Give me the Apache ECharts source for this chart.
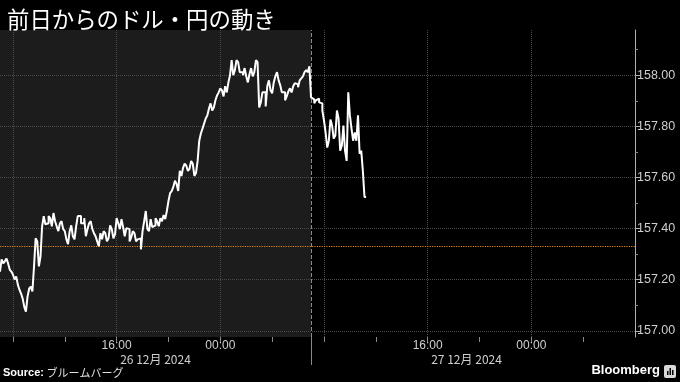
<!DOCTYPE html>
<html><head><meta charset="utf-8">
<script src="https://cdn.jsdelivr.net/npm/echarts@6/dist/echarts.min.js"></script>
<style>html,body{margin:0;padding:0;background:#000;}#c{width:680px;height:382px;}</style>
</head><body><div id="c"></div>
<script>
// ---- data ----
const titleText = '前日からのドル・円の動き';
const startHour = 7;          // hours counted from 26 Dec 2024 00:00 (first point 26 Dec 07:00)
const stepMinutes = 7.5;
const prices = [
157.264,157.232,157.280,157.264,157.272,157.283,157.264,157.240,157.232,157.220,
157.201,157.213,157.181,157.161,157.146,157.126,157.094,157.075,157.134,157.165,
157.173,157.154,157.252,157.362,157.350,157.252,157.291,157.409,157.449,157.417,
157.421,157.449,157.441,157.409,157.461,157.429,157.409,157.390,157.421,157.429,
157.398,157.390,157.358,157.339,157.390,157.413,157.370,157.358,157.409,157.449,
157.449,157.421,157.421,157.441,157.370,157.398,157.421,157.429,157.398,157.382,
157.370,157.350,157.331,157.382,157.358,157.390,157.382,157.350,157.362,157.413,
157.398,157.362,157.378,157.441,157.421,157.398,157.437,157.406,157.370,157.402,
157.398,157.350,157.366,157.390,157.382,157.350,157.358,157.362,157.319,157.390,
157.429,157.469,157.398,157.390,157.437,157.406,157.413,157.441,157.429,157.409,
157.441,157.429,157.453,157.437,157.469,157.508,157.539,157.547,157.563,157.587,
157.575,157.547,157.626,157.606,157.638,157.654,157.646,157.626,157.634,157.665,
157.654,157.606,157.618,157.665,157.744,157.772,157.791,157.811,157.831,157.843,
157.870,157.890,157.862,157.874,157.902,157.921,157.933,157.949,157.941,157.917,
157.957,157.933,157.972,158.000,158.059,158.000,158.020,158.059,158.051,158.012,
158.012,158.000,158.028,157.996,157.972,158.004,158.028,157.996,158.012,158.059,
158.051,157.874,157.894,157.933,157.933,157.878,157.957,157.980,157.941,157.929,
157.972,157.996,158.012,157.980,157.961,157.933,157.933,157.902,157.917,157.937,
157.949,157.933,157.957,157.969,157.965,157.953,157.980,157.988,157.996,158.012,
158.020,158.012,158.035,157.913,157.906,157.890,157.902,157.909,157.894,157.890,
157.862,157.823,157.776,157.717,157.744,157.827,157.803,157.752,157.764,157.862,
157.831,157.705,157.724,157.803,157.705,157.665,157.933,157.843,157.791,157.744,
157.776,157.744,157.843,157.693,157.705,157.626,157.524
];
const prevClose = 157.33;
const yMin = 156.976, yMax = 158.177;
const yLabelValues = [157.0, 157.2, 157.4, 157.6, 157.8, 158.0];
const yMinorValues = [157.1, 157.3, 157.5, 157.7, 157.9, 158.1];
const xMin = 7, xMax = 56;
const xTickValues = [8, 12, 16, 20, 24, 28, 32, 36, 40, 44, 48, 52];
const xGridValues = [8, 16, 24, 32, 40, 48];
const timeLabelValues = [16, 24, 40, 48];
const timeLabels = ['16:00', '00:00', '16:00', '00:00'];
const dateLabelValues = [19, 43];
const dateLabels = ['26 12月 2024', '27 12月 2024'];
const prevSession = [7, 31];
const sessionBreak = 31;

// ---- chart ----
const seriesData = prices.map((p, i) => [startHour + i * stepMinutes / 60, p]);
const chart = echarts.init(document.getElementById('c'), null, {renderer: 'canvas'});
const gridColor = '#4a4a4a';
const labelColor = '#cfcfcf';
const font = '"Liberation Sans", Arial, sans-serif';

chart.setOption({
  backgroundColor: '#000',
  animation: false,
  title: {
    text: titleText, left: 2, top: 3,
    textStyle: {color: '#fff', fontSize: 22.4, fontWeight: 'normal', fontFamily: '"Noto Sans CJK JP", sans-serif'}
  },
  grid: {left: 0, right: 45, top: 30, bottom: 45, containLabel: false},
  xAxis: [
    {type: 'value', min: xMin, max: xMax, position: 'bottom',
     axisLine: {show: false},
     axisTick: {show: true, customValues: xTickValues, length: 5, lineStyle: {color: '#8a8a8a'}},
     axisLabel: {customValues: timeLabelValues, color: labelColor, fontSize: 12, fontFamily: font, margin: 3,
       formatter: v => timeLabels[timeLabelValues.indexOf(v)]},
     splitLine: {show: false}},
    {type: 'value', min: xMin, max: xMax, position: 'bottom', offset: 13,
     axisLine: {show: false}, axisTick: {show: false},
     axisLabel: {customValues: dateLabelValues, color: labelColor, fontSize: 12, fontFamily: '"Noto Sans CJK JP", sans-serif', margin: 3,
       formatter: v => dateLabels[dateLabelValues.indexOf(v)]},
     splitLine: {show: false}},
    {type: 'value', min: xMin, max: xMax, position: 'bottom',
     axisLine: {show: false},
     axisTick: {show: true, customValues: [sessionBreak], length: 28, lineStyle: {color: '#8a8a8a'}},
     axisLabel: {show: false}, splitLine: {show: false}}
  ],
  yAxis: [
    {type: 'value', position: 'right', min: yMin, max: yMax,
     axisLine: {show: true, lineStyle: {color: '#b0b0b0'}},
     axisTick: {show: true, customValues: yLabelValues, length: 5, lineStyle: {color: '#b0b0b0'}},
     axisLabel: {customValues: yLabelValues, color: labelColor, fontSize: 12.5, fontFamily: font, margin: 2,
       formatter: v => v.toFixed(2)},
     splitLine: {show: false}},
    {type: 'value', position: 'right', min: yMin, max: yMax,
     axisLine: {show: false},
     axisTick: {show: true, customValues: yMinorValues, length: 3, lineStyle: {color: '#8a8a8a'}},
     axisLabel: {show: false}, splitLine: {show: false}}
  ],
  series: [
    {type: 'line', data: [], xAxisIndex: 0, yAxisIndex: 0, z: 1, silent: true,
     markArea: {silent: true, itemStyle: {color: '#1c1c1c'},
       data: [[{xAxis: prevSession[0]}, {xAxis: prevSession[1]}]]},
     markLine: {silent: true, symbol: 'none', label: {show: false},
       data: [
         ...yLabelValues.map(v => ({yAxis: v, lineStyle: {color: gridColor, type: 'dotted', width: 1}})),
         ...xGridValues.map(v => ({xAxis: v, lineStyle: {color: gridColor, type: 'dotted', width: 1}})),
         {xAxis: sessionBreak, lineStyle: {color: '#8a8a8a', type: 'dashed', width: 1}},
         {yAxis: prevClose, lineStyle: {color: '#e8860f', type: 'dotted', width: 1.2}}
       ]}},
    {type: 'line', data: seriesData, xAxisIndex: 0, yAxisIndex: 0, z: 5,
     step: 'start', showSymbol: false, symbol: 'none',
     lineStyle: {color: '#ffffff', width: 2}}
  ],
  graphic: [
    {type: 'text', left: 3, top: 367,
     style: {text: '{b|Source:} ブルームバーグ', fill: '#e0e0e0', fontSize: 11, fontFamily: '"Noto Sans CJK JP", sans-serif',
       rich: {b: {fontWeight: 'bold', fontSize: 11, fill: '#fff', fontFamily: font}}}},
    {type: 'text', right: 20, top: 364,
     style: {text: 'Bloomberg', fill: '#fff', fontSize: 13, fontWeight: 'bold', fontFamily: font}},
    {type: 'group', right: 4, top: 365, children: [
      {type: 'rect', shape: {x: 0, y: 0, width: 12, height: 13, r: 2}, style: {fill: '#d8d8d8'}},
      {type: 'rect', shape: {x: 3, y: 6, width: 1.5, height: 4}, style: {fill: '#000'}},
      {type: 'rect', shape: {x: 5.5, y: 3, width: 1.5, height: 7}, style: {fill: '#000'}},
      {type: 'rect', shape: {x: 8, y: 5, width: 1.5, height: 5}, style: {fill: '#000'}}
    ]}
  ]
});
</script>
</body></html>
